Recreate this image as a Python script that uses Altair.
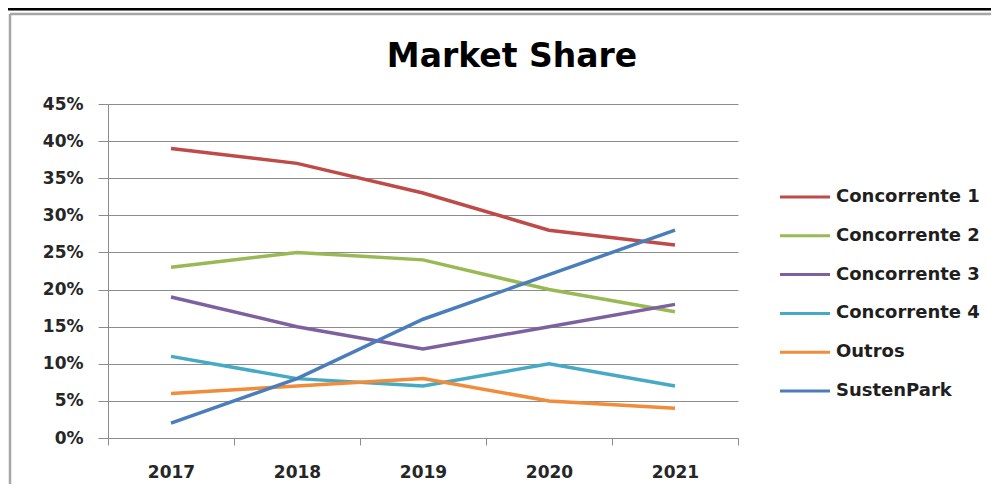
import altair as alt
import pandas as pd

years = ["2017", "2018", "2019", "2020", "2021"]
series_names = ["Concorrente 1", "Concorrente 2", "Concorrente 3", "Concorrente 4", "Outros", "SustenPark"]
conc1 = [0.39, 0.37, 0.33, 0.28, 0.26]
conc2 = [0.23, 0.25, 0.24, 0.20, 0.17]
conc3 = [0.19, 0.15, 0.12, 0.15, 0.18]
conc4 = [0.11, 0.08, 0.07, 0.10, 0.07]
outros = [0.06, 0.07, 0.08, 0.05, 0.04]
sustenpark = [0.02, 0.08, 0.16, 0.22, 0.28]
colors = ["#BE4B48", "#98B954", "#7D60A0", "#46AAC5", "#F08C3A", "#4A7EBB"]
y_ticks = [0, 0.05, 0.10, 0.15, 0.20, 0.25, 0.30, 0.35, 0.40, 0.45]

values = [conc1, conc2, conc3, conc4, outros, sustenpark]
rows = []
for name, vals in zip(series_names, values):
    for yr, v in zip(years, vals):
        rows.append({"year": yr, "share": v, "series": name})
df = pd.DataFrame(rows)
legend_df = pd.DataFrame({"series": series_names, "idx": list(range(len(series_names)))})

FONT = "DejaVu Sans"
GRAY = "#8C8C8C"
W, H = 630, 334

color_scale = alt.Scale(domain=series_names, range=colors)

lines = alt.Chart(df).mark_line(strokeWidth=3.5).encode(
    x=alt.X("year:O", bandPosition=0.5,
            scale=alt.Scale(type="band", paddingInner=0, paddingOuter=0),
            axis=alt.Axis(title=None, labelAngle=0, tickBand="extent", grid=False,
                          domainColor=GRAY, tickColor=GRAY, tickSize=7,
                          labelFont=FONT, labelFontWeight="bold", labelFontSize=17,
                          labelColor="#262626", labelPadding=19)),
    y=alt.Y("share:Q", scale=alt.Scale(domain=[0, 0.45], nice=False),
            axis=alt.Axis(title=None, values=y_ticks, format=".0%", grid=True,
                          gridColor=GRAY, domainColor=GRAY, tickColor=GRAY, tickSize=10,
                          labelFont=FONT, labelFontWeight="bold", labelFontSize=17,
                          labelColor="#262626", labelPadding=15)),
    color=alt.Color("series:N", scale=color_scale, legend=None),
    detail="series:N",
)

leg_y = alt.Y("idx:Q", scale=alt.Scale(domain=[0, 5], range=[93, 287]), axis=None)
leg_rules = alt.Chart(legend_df).mark_rule(strokeWidth=3).encode(
    x=alt.value(672), x2=alt.value(722), y=leg_y,
    color=alt.Color("series:N", scale=color_scale, legend=None),
)
leg_text = alt.Chart(legend_df).mark_text(
    align="left", baseline="middle", font=FONT, fontWeight="bold", fontSize=18, color="#1F1F1F"
).encode(x=alt.value(728), y=leg_y, text="series:N")

one = pd.DataFrame({"k": [0]})
title = alt.Chart(one).mark_text(
    text="Market Share", align="center", baseline="alphabetic",
    font=FONT, fontWeight="bold", fontSize=33, color="#000000"
).encode(x=alt.value(404), y=alt.value(-37))

frame_left = alt.Chart(one).mark_rule(color="#A6A6A6", strokeWidth=2.5).encode(
    x=alt.value(-98), y=alt.value(-90), y2=alt.value(380))
frame_top = alt.Chart(one).mark_rule(color="#A6A6A6", strokeWidth=2.5).encode(
    x=alt.value(-98), x2=alt.value(890), y=alt.value(-90))
table_line = alt.Chart(one).mark_rule(color="#000000", strokeWidth=3).encode(
    x=alt.value(-100), x2=alt.value(890), y=alt.value(-95))
div_df = pd.DataFrame({"d": [-99, 273, 400, 527, 654, 781]})
table_divs = alt.Chart(div_df).mark_rule(color="#000000", strokeWidth=1.5).encode(
    x=alt.X("d:Q", scale=alt.Scale(domain=[0, W], range=[0, W]), axis=None),
    y=alt.value(-110), y2=alt.value(-95))

chart = alt.layer(
    lines, leg_rules, leg_text, title, frame_left, frame_top, table_line, table_divs
).resolve_scale(y="independent", x="independent").properties(
    width=W, height=H,
    autosize=alt.AutoSizeParams(type="none"),
    padding={"left": 100, "top": 96, "right": 253, "bottom": 51},
    background="white",
).configure_view(stroke=None)

chart.save("out.html", embed_options={"renderer": "svg", "actions": False})
